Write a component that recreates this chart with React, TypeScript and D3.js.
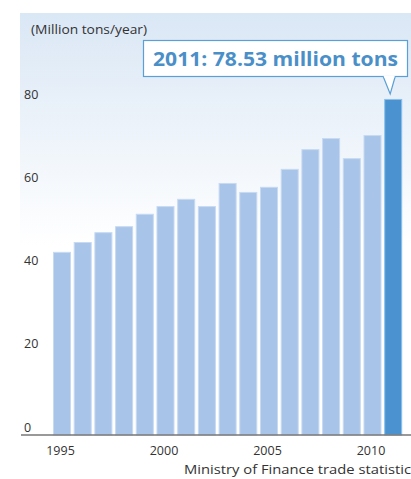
import React from "react";
import * as d3 from "d3";

const years = [1995,1996,1997,1998,1999,2000,2001,2002,2003,2004,2005,2006,2007,2008,2009,2010,2011];
const values = [42.8,45.1,47.4,48.8,51.7,53.5,55.2,53.5,58.9,56.8,58.0,62.2,66.8,69.4,64.7,70.1,78.53];
const yTicks = [0,20,40,60,80];
const xTickYears = [1995,2000,2005,2010];
const unitLabel = "(Million tons/year)";
const calloutText = "2011: 78.53 million tons";
const sourceText = "Ministry of Finance trade statistics";

export default function App() {
  const W = 411, H = 479;
  const baseY = 435;
  const x = d3.scaleBand<number>().domain(years).range([51.65, 403.55]).paddingInner(0.13).paddingOuter(0.065);
  const y = d3.scaleLinear().domain([0, 80]).range([baseY, baseY - 80 * 4.279]);
  const yLab = d3.scaleLinear().domain([0, 80]).range([427, 94]);
  const last = years[years.length - 1];
  const lastX = (x(last) as number) + x.bandwidth() / 2;
  const lastTop = y(values[values.length - 1]);
  const font = "'Open Sans', Lato, sans-serif";
  return (
    <svg width={W} height={H} style={{ position: "absolute", left: 0, top: 0, background: "#fff" }} fontFamily={font}>
      <defs>
        <linearGradient id="bg" x1="0" y1="0" x2="0" y2="1">
          <stop offset="0" stopColor="#dae7f5" />
          <stop offset="0.55" stopColor="#ffffff" />
          <stop offset="1" stopColor="#ffffff" />
        </linearGradient>
      </defs>
      <rect x={20} y={13} width={W - 20} height={baseY - 13} fill="url(#bg)" />
      <text x={31} y={29} fontSize={13} fill="#333" dominantBaseline="central"
        textLength={116} lengthAdjust="spacingAndGlyphs">{unitLabel}</text>
      {yTicks.map(t => (
        <text key={t} x={24} y={yLab(t)} fontSize={12.5} fill="#333" dominantBaseline="central">{t}</text>
      ))}
      {years.map((yr, i) => {
        const isLast = i === years.length - 1;
        const bx = x(yr) as number;
        const by = y(values[i]);
        return (
          <rect key={yr} x={bx + 0.5} y={by + 0.5} width={x.bandwidth() - 1} height={baseY - by - 0.5}
            fill={isLast ? "#4a93d0" : "#a8c4e8"} stroke={isLast ? "#8cc0ec" : "#c7daf2"} strokeWidth={1} />
        );
      })}
      <line x1={21} x2={W} y1={baseY} y2={baseY} stroke="#777" strokeWidth={1.5} />
      {xTickYears.map(yr => (
        <text key={yr} x={(x(yr) as number) + x.bandwidth() / 2 - 1.5} y={450} fontSize={12.5} fill="#333"
          textAnchor="middle" dominantBaseline="central">{yr}</text>
      ))}
      <text x={184} y={469} fontSize={13.5} fill="#333" dominantBaseline="central"
        textLength={234} lengthAdjust="spacingAndGlyphs">{sourceText}</text>
      <rect x={143.5} y={40.5} width={264} height={36} fill="#fff" stroke="#5a9fd6" strokeWidth={1.2} />
      <path d={`M${lastX - 10},76.5 L${lastX - 3},${lastTop - 5} L${lastX + 2},76.5`} fill="#fff" stroke="#5a9fd6" strokeWidth={1.2} />
      <rect x={lastX - 9.3} y={75.5} width={10.6} height={2} fill="#fff" />
      <text x={153} y={59} fontSize={19} fontWeight="bold" fill="#4a8fc8" dominantBaseline="central"
        textLength={245} lengthAdjust="spacingAndGlyphs">{calloutText}</text>
    </svg>
  );
}
